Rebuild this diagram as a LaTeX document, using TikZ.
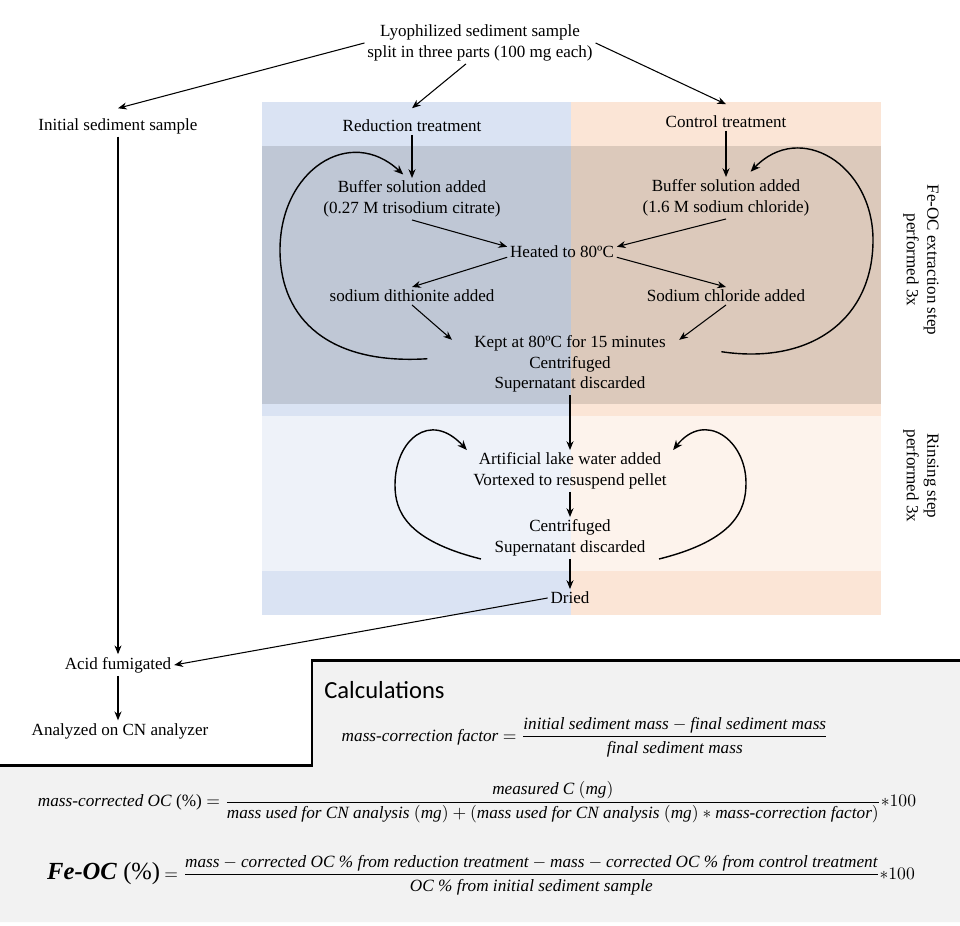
\documentclass[tikz,border=0pt]{standalone}
\usepackage{amsmath}
\usepackage{fontspec}
\setmainfont{Liberation Serif}
\newfontfamily\calcfont{Carlito}
\usetikzlibrary{arrows.meta,positioning}

\definecolor{redbg}{HTML}{DAE3F3}
\definecolor{ctlbg}{HTML}{FBE5D6}
\definecolor{calcbg}{HTML}{F2F2F2}

\begin{document}
\begin{tikzpicture}[
    x=0.02cm, y=-0.02cm,
    proc/.style={align=center, inner sep=1.5pt, font=\fontsize{9.7}{11.6}\selectfont},
    side/.style={proc, rotate=-90},
    formula/.style={inner sep=0pt, font=\fontsize{9.8}{12}\selectfont},
    arrow/.style={-{Stealth[length=5pt, width=4pt]}, line width=0.6pt},
    cycle/.style={-{Stealth[length=5.5pt, width=4.5pt]}, line width=0.8pt}
]
\useasboundingbox (0,0) rectangle (960,926);

% shaded treatment columns
\fill[redbg] (262,102) rectangle (571,615);
\fill[ctlbg] (571,102) rectangle (881,615);
\fill[black, opacity=0.12] (262,146) rectangle (881,404);
\fill[white, opacity=0.55] (262,416) rectangle (881,571);

% calculations panel
\fill[calcbg] (0,765) -- (312,765) -- (312,660) -- (960,660) -- (960,922) -- (0,922) -- cycle;
\draw[line width=1.7pt] (0,765) -- (312,765) -- (312,660) -- (960,660);

% Sample split
\node[proc] (lyo) at (480,43) {Lyophilized sediment sample\\split in three parts (100 mg each)};
\node[proc] (init) at (118,126) {Initial sediment sample};
\node[proc] (red) at (412,126) {Reduction treatment};
\node[proc] (ctl) at (726,122) {Control treatment};

% Fe-OC extraction
\node[proc] (bufr) at (412,199) {Buffer solution added\\(0.27 M trisodium citrate)};
\node[proc] (bufc) at (726,198) {Buffer solution added\\(1.6 M sodium chloride)};
\node[proc] (heat) at (562,252) {Heated to 80ºC};
\node[proc] (dith) at (412,296) {sodium dithionite added};
\node[proc] (nacl) at (726,296) {Sodium chloride added};
\node[proc] (kept) at (570,364) {Kept at 80ºC for 15 minutes\\Centrifuged\\Supernatant discarded};

% Rinsing
\node[proc] (lake) at (570,471) {Artificial lake water added\\Vortexed to resuspend pellet};
\node[proc] (cent) at (570,538) {Centrifuged\\Supernatant discarded};
\node[proc] (dried) at (570,598) {Dried};

% Analysis
\node[proc] (acid) at (118,665) {Acid fumigated};
\node[proc] (cn) at (120,731) {Analyzed on CN analyzer};

% step labels
\node[side] (extr) at (921,260) {Fe-OC extraction step\\performed 3x};
\node[side] (rins) at (921,476) {Rinsing step\\performed 3x};

% arrows
\draw[arrow] (lyo.west) -- ([yshift=4pt]init.north);
\draw[arrow] ([xshift=-8pt]lyo.south) -- ([yshift=5pt]red.north);
\draw[arrow] (lyo.east) -- ([yshift=5pt]ctl.north);
\draw[arrow] (red) -- (bufr);
\draw[arrow] (ctl) -- (bufc);
\draw[arrow] (bufr.south) -- ([yshift=3pt]heat.west);
\draw[arrow] (bufc.south) -- ([yshift=3pt]heat.east);
\draw[arrow] ([yshift=-3pt]heat.west) -- (dith.north);
\draw[arrow] ([yshift=-3pt]heat.east) -- (nacl.north);
\draw[arrow] (dith.south) -- ([xshift=-11pt, yshift=-4pt]kept.north west);
\draw[arrow] (nacl.south) -- ([xshift=6pt, yshift=-4pt]kept.north east);
\draw[arrow] (kept) -- (lake);
\draw[arrow] (lake) -- (cent);
\draw[arrow] (cent) -- (dried);
\draw[arrow] (dried.west) -- (acid.east);
\draw[arrow] (init) -- (acid);
\draw[arrow] (acid) -- (acid |- cn.north);

% repeat loops
\draw[cycle] ([xshift=-25pt, yshift=3pt]kept.west) .. controls (330,365) and (280,320) .. (280,250)
    .. controls (280,170) and (350,125) .. ([xshift=-5pt, yshift=2pt]bufr.north);
\draw[cycle] ([xshift=30pt, yshift=7pt]kept.east) .. controls (810,365) and (873,320) .. (873,240)
    .. controls (873,165) and (800,120) .. ([xshift=14pt, yshift=3pt]bufc.north);
\draw[cycle] ([xshift=-6pt]cent.south west) .. controls (405,540) and (395,510) .. (395,485)
    .. controls (395,440) and (430,410) .. ([xshift=-2pt]lake.north west);
\draw[cycle] ([xshift=6pt]cent.south east) .. controls (735,540) and (746,510) .. (746,483)
    .. controls (746,440) and (705,410) .. ([xshift=2pt]lake.north east);

% Calculations
\node[anchor=west, inner sep=0pt, font=\calcfont\fontsize{14}{16}\selectfont] (calc) at (324,690) {Calculations};
\node[formula] (mcf) at (585,737) {\textit{mass-correction factor} $=\dfrac{\textit{initial sediment mass} - \textit{final sediment mass}}{\textit{final sediment mass}}$};
\node[formula] (mco) at (477,802) {\textit{mass-corrected OC} (\%) $=\dfrac{\textit{measured C}\ (\textit{mg})}{\textit{mass used for CN analysis}\ (\textit{mg}) + (\textit{mass used for CN analysis}\ (\textit{mg}) \ast \textit{mass-correction factor})}{\ast}100$};
\node[formula] (feoc) at (481,875) {{\fontsize{14}{16}\selectfont\textbf{\textit{Fe-OC}} (\%)} $=\dfrac{\textit{mass} - \textit{corrected OC \% from reduction treatment} - \textit{mass} - \textit{corrected OC \% from control treatment}}{\textit{OC \% from initial sediment sample}}{\ast}100$};

\end{tikzpicture}
\end{document}
